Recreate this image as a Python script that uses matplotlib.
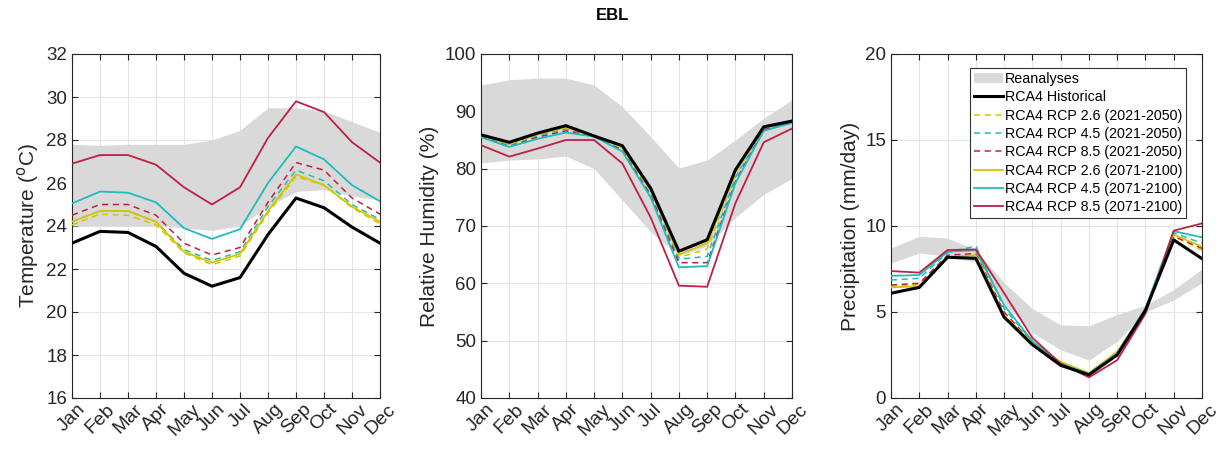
import matplotlib
matplotlib.use("Agg")
import matplotlib.pyplot as plt
import numpy as np

plt.rcParams['font.family'] = ['Liberation Sans', 'DejaVu Sans']

months = ["Jan", "Feb", "Mar", "Apr", "May", "Jun", "Jul", "Aug", "Sep", "Oct", "Nov", "Dec"]

# Temperature (°C)
temp_rea_low = [24.0, 24.0, 24.0, 24.0, 23.9, 23.8, 24.0, 24.9, 25.6, 25.7, 25.4, 25.2]
temp_rea_high = [27.8, 27.75, 27.8, 27.8, 27.8, 28.0, 28.45, 29.5, 29.5, 29.35, 28.85, 28.35]
temp_hist = [23.2, 23.75, 23.7, 23.05, 21.8, 21.2, 21.6, 23.6, 25.3, 24.85, 23.95, 23.2]
temp_26_mid = [24.05, 24.55, 24.5, 24.05, 22.75, 22.2, 22.6, 24.6, 26.3, 25.9, 24.85, 24.1]
temp_45_mid = [24.2, 24.7, 24.7, 24.2, 22.9, 22.4, 22.8, 24.9, 26.6, 26.1, 25.0, 24.3]
temp_85_mid = [24.5, 25.0, 25.0, 24.5, 23.2, 22.65, 23.0, 25.1, 26.95, 26.6, 25.3, 24.55]
temp_26_end = [24.2, 24.7, 24.7, 24.2, 22.8, 22.3, 22.7, 24.7, 26.4, 25.9, 24.9, 24.2]
temp_45_end = [25.05, 25.6, 25.55, 25.1, 23.9, 23.4, 23.85, 26.0, 27.7, 27.1, 25.9, 25.15]
temp_85_end = [26.9, 27.3, 27.3, 26.85, 25.8, 25.0, 25.8, 28.1, 29.8, 29.3, 27.9, 26.95]

# Relative humidity (%)
rh_rea_low = [81.0, 81.5, 81.7, 82.2, 80.0, 74.5, 69.0, 64.8, 66.5, 71.5, 75.5, 78.3]
rh_rea_high = [94.6, 95.5, 95.8, 95.8, 94.6, 90.8, 85.6, 80.1, 81.5, 85.0, 88.8, 92.0]
rh_hist = [85.9, 84.6, 86.2, 87.5, 85.7, 84.0, 76.6, 65.6, 67.6, 79.8, 87.3, 88.3]
rh_26_mid = [85.8, 84.2, 86.0, 87.0, 85.7, 83.6, 76.0, 64.5, 66.0, 79.0, 87.0, 88.2]
rh_45_mid = [85.7, 84.0, 85.8, 86.9, 85.7, 83.3, 75.5, 64.2, 64.7, 78.5, 86.9, 88.1]
rh_85_mid = [85.6, 83.8, 85.5, 86.6, 85.6, 83.2, 75.3, 63.6, 63.6, 77.8, 86.8, 88.0]
rh_26_end = [85.9, 84.3, 86.0, 87.2, 85.7, 83.7, 76.3, 65.0, 67.0, 79.5, 87.2, 88.4]
rh_45_end = [85.5, 83.8, 85.2, 86.3, 85.6, 83.0, 75.0, 62.8, 63.0, 77.5, 86.6, 88.0]
rh_85_end = [84.1, 82.1, 83.5, 85.0, 85.0, 80.9, 71.5, 59.6, 59.4, 74.0, 84.6, 87.0]

# Precipitation (mm/day)
pr_rea_low = [7.85, 8.43, 8.24, 7.9, 5.5, 3.8, 2.8, 2.2, 3.3, 5.0, 5.7, 6.7]
pr_rea_high = [8.72, 9.4, 9.3, 8.6, 6.7, 5.2, 4.25, 4.2, 4.85, 5.4, 6.3, 7.5]
pr_hist = [6.09, 6.43, 8.18, 8.12, 4.7, 3.1, 1.9, 1.35, 2.5, 5.1, 9.19, 8.1]
pr_26_mid = [6.5, 6.6, 8.25, 8.35, 4.9, 3.2, 2.1, 1.4, 2.6, 5.1, 9.4, 8.6]
pr_45_mid = [6.86, 6.96, 8.45, 8.84, 5.2, 3.3, 2.0, 1.45, 2.6, 5.2, 9.6, 9.0]
pr_85_mid = [6.57, 6.67, 8.3, 8.4, 5.0, 3.2, 2.0, 1.4, 2.5, 5.1, 9.4, 8.7]
pr_26_end = [6.43, 6.5, 8.2, 8.3, 4.8, 3.2, 2.1, 1.45, 2.7, 5.1, 9.5, 8.8]
pr_45_end = [7.1, 7.15, 8.5, 8.6, 5.4, 3.3, 2.0, 1.4, 2.6, 5.2, 9.7, 9.34]
pr_85_end = [7.38, 7.29, 8.6, 8.64, 6.1, 3.5, 2.0, 1.2, 2.2, 4.9, 9.73, 10.15]

labels = ["Reanalyses", "RCA4 Historical",
          "RCA4 RCP 2.6 (2021-2050)", "RCA4 RCP 4.5 (2021-2050)", "RCA4 RCP 8.5 (2021-2050)",
          "RCA4 RCP 2.6 (2071-2100)", "RCA4 RCP 4.5 (2071-2100)", "RCA4 RCP 8.5 (2071-2100)"]

YEL = '#d4c600'
CYN = '#1fbcbc'
RED = '#bf1f45'
GRAY = '#d9d9d9'
AXC = '#262626'

fig = plt.figure(figsize=(12.26, 4.5), dpi=100)
W, H = 1226, 450
def ax_at(l, r, t, b):
    return fig.add_axes([l / W, 1 - b / H, (r - l) / W, (b - t) / H])

axes = [ax_at(72, 380, 54, 398), ax_at(481, 792, 54, 398), ax_at(891, 1202, 54, 398)]

panels = [
    (temp_rea_low, temp_rea_high, temp_hist, temp_26_mid, temp_45_mid, temp_85_mid,
     temp_26_end, temp_45_end, temp_85_end, (16, 32), np.arange(16, 33, 2), r'Temperature ($^{\rm o}$C)'),
    (rh_rea_low, rh_rea_high, rh_hist, rh_26_mid, rh_45_mid, rh_85_mid,
     rh_26_end, rh_45_end, rh_85_end, (40, 100), np.arange(40, 101, 10), 'Relative Humidity (%)'),
    (pr_rea_low, pr_rea_high, pr_hist, pr_26_mid, pr_45_mid, pr_85_mid,
     pr_26_end, pr_45_end, pr_85_end, (0, 20), np.arange(0, 21, 5), 'Precipitation (mm/day)'),
]

x = np.arange(1, 13)
for i, (ax, p) in enumerate(zip(axes, panels)):
    lo, hi, hist, m26, m45, m85, e26, e45, e85, ylim, yt, ylab = p
    ax.fill_between(x, lo, hi, color=GRAY, linewidth=0, label=labels[0], zorder=1)
    ax.plot(x, hist, color='black', lw=2.2, label=labels[1], zorder=5)
    ax.plot(x, m26, color=YEL, lw=1.1, ls=(0, (4, 3)), label=labels[2], zorder=3)
    ax.plot(x, m45, color=CYN, lw=1.1, ls=(0, (4, 3)), label=labels[3], zorder=3)
    ax.plot(x, m85, color=RED, lw=1.1, ls=(0, (4, 3)), label=labels[4], zorder=3)
    ax.plot(x, e26, color=YEL, lw=1.3, label=labels[5], zorder=4)
    ax.plot(x, e45, color=CYN, lw=1.3, label=labels[6], zorder=4)
    ax.plot(x, e85, color=RED, lw=1.3, label=labels[7], zorder=4)
    ax.set_xlim(1, 12)
    ax.set_ylim(*ylim)
    ax.set_yticks(yt)
    ax.set_xticks(x)
    ax.set_xticklabels(months, rotation=45, ha='center', va='top', rotation_mode='default')
    ax.tick_params(axis='both', direction='in', top=True, right=True, labelsize=13.5,
                   colors=AXC, length=4, width=0.8)
    ax.tick_params(axis='x', pad=2, labelsize=14)
    ax.grid(True, color='#e6e6e6', lw=0.8, zorder=0)
    ax.set_axisbelow(True)
    for s in ax.spines.values():
        s.set_color(AXC)
        s.set_linewidth(0.8)
    ax.set_ylabel(ylab, fontsize=15, color=AXC, labelpad=4)
    if i == 2:
        leg = ax.legend(loc='upper right', bbox_to_anchor=(0.95, 0.96), fontsize=10.3,
                        frameon=True, fancybox=False, framealpha=1, edgecolor='#333333',
                        handlelength=2.0, handletextpad=0.15, labelspacing=0.3,
                        borderpad=0.3, borderaxespad=0.0)
        leg.get_frame().set_linewidth(0.8)

fig.text(613 / W, 1 - 16 / H, 'EBL', ha='center', va='center', fontsize=12, fontweight='bold')

fig.savefig('out.png', dpi=100)
